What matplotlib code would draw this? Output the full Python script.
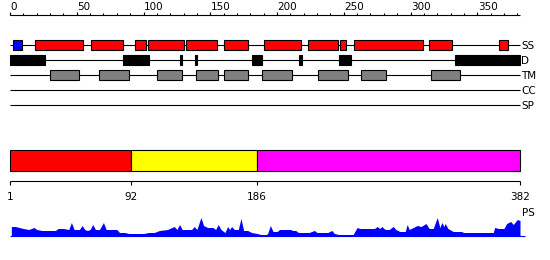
import matplotlib
matplotlib.use("Agg")
import matplotlib.pyplot as plt
import numpy as np

# --- Data ------------------------------------------------------------------

SEQ_LEN = 382

# secondary structure (residue start, end)
ss_helix = [(19, 55), (61, 85), (94, 102), (103, 130), (132, 155), (160, 178),
            (190, 218), (223, 246), (247, 252), (258, 309), (314, 331), (366, 373)]
ss_strand = [(2, 9)]

# disorder
disorder = [(0, 26), (85, 104), (127, 129), (138.5, 140), (181, 189),
            (216.5, 218.5), (246.5, 255.5), (333, 382)]

# transmembrane
transmem = [(30, 52), (67, 89), (110, 129), (139, 156), (160, 178),
            (189, 211), (231, 253), (263, 282), (315, 337)]

track_names = ["SS", "D", "TM", "CC", "SP"]

# domains (first residue of each) + colours
domain_starts = [1, 92, 186]
domain_colors = ["#ff0000", "#ffff00", "#ff00ff"]

# profile (residue, height)
ps_pos = [1, 4, 7, 10, 14, 18, 20, 24, 30, 34, 36, 40, 44, 46, 48, 52, 54, 56,
          58, 60, 62, 64, 67, 70, 72, 76, 80, 82, 86, 89, 95, 100, 104, 108,
          112, 118, 123, 125, 127, 129, 134, 136, 138, 140, 143, 145, 148, 152,
          154, 156, 158, 161, 163, 164.5, 166, 168, 171, 173, 175, 178, 181,
          185, 188, 192, 193, 195, 197, 200, 202, 206, 210, 212, 214, 216, 224,
          228, 230, 238, 241, 243, 246, 257, 260, 262, 266, 270, 273, 275, 277,
          278.5, 281, 284, 287, 289, 292, 296, 297.5, 299, 302, 305, 308,
          311.5, 314, 317, 320, 321, 322, 323.5, 325, 326, 328, 332, 338, 340,
          362, 363, 366, 370, 372, 375, 377, 380, 382]
ps_val = [9, 9, 8, 7, 6, 8, 6, 5, 5, 5, 7, 7, 6, 13, 6, 6, 10, 6,
          5, 6, 11, 6, 6, 13, 6, 6, 6, 3, 3, 2, 2, 2, 3, 3,
          5, 6, 9, 6, 11, 6, 6, 6, 9, 6, 18, 10, 8, 8,
          6, 11, 6, 3, 9, 6, 9, 6, 6, 17, 5, 5, 3,
          2, 1, 1, 2, 10, 4, 4, 6, 6, 6, 5, 5, 3, 3,
          5, 3, 3, 5, 2, 1, 1, 8, 7, 7, 7, 7, 9, 7,
          9, 6, 6, 9, 6, 4, 4, 11, 6, 8, 10, 9,
          12, 7, 7, 18, 13, 8, 13, 9, 12, 7, 4, 4, 3,
          3, 8, 7, 7, 12, 14, 11, 16, 15]

# --- Layout (pixel rows, axes y is inverted) -------------------------------

PX = SEQ_LEN / 510.0          # residues per pixel
RULER_Y = 15
TRACK_Y = [45, 60, 75, 90, 105]
BOX_H = 10
DOM_Y0, DOM_Y1 = 150, 170.5
AXIS_Y = 181
PS_BASE = 235.5

FS = 7.5
LW = 0.8

# --- Plot ------------------------------------------------------------------

fig = plt.figure(figsize=(5.5, 2.6), dpi=100)
ax = fig.add_axes([0, 0, 1, 1])
ax.set_xlim(-10 * PX, 540 * PX)
ax.set_ylim(260, 0)
ax.axis("off")

# top ruler
ax.hlines(RULER_Y, 0, SEQ_LEN, color="black", lw=LW)
minor = np.arange(0, SEQ_LEN, 10)
ax.vlines(minor, RULER_Y - 2, RULER_Y, color="black", lw=LW)
major = np.arange(0, SEQ_LEN, 50)
ax.vlines(major, RULER_Y - 3.5, RULER_Y, color="black", lw=LW)
for m in major:
    ax.text(m + 0.3, 10, str(m), ha="left", va="baseline", fontsize=FS)

# tracks
for name, y in zip(track_names, TRACK_Y):
    ax.hlines(y, 0, SEQ_LEN, color="black", lw=LW, zorder=1)
    ax.text(SEQ_LEN + 0.8, y + 3.8, name, ha="left", va="baseline", fontsize=FS)


def draw_boxes(items, y, color):
    starts = np.array([a for a, b in items], dtype=float)
    ends = np.array([b for a, b in items], dtype=float)
    ax.barh(y, ends - starts, left=starts, height=BOX_H, color=color,
            edgecolor="black", linewidth=LW, zorder=2)


draw_boxes(ss_helix, TRACK_Y[0], "#ff0000")
draw_boxes(ss_strand, TRACK_Y[0], "#0000ff")
draw_boxes(disorder, TRACK_Y[1], "black")
draw_boxes(transmem, TRACK_Y[2], "#808080")

# domain bar
bounds = [s - 1 for s in domain_starts] + [SEQ_LEN]
for i, col in enumerate(domain_colors):
    ax.barh((DOM_Y0 + DOM_Y1) / 2, bounds[i + 1] - bounds[i], left=bounds[i],
            height=DOM_Y1 - DOM_Y0, color=col, edgecolor="black",
            linewidth=LW, zorder=2)

# domain axis
ax.hlines(AXIS_Y, 0, SEQ_LEN, color="black", lw=LW)
ax.vlines(bounds, AXIS_Y, AXIS_Y + 4, color="black", lw=LW)
labels = domain_starts + [SEQ_LEN]
for b, lab in zip(bounds, labels):
    ax.text(b, 200, str(lab), ha="center", va="baseline", fontsize=FS)

# profile
pos = np.array(ps_pos, dtype=float)
val = np.array(ps_val, dtype=float)
ax.fill_between(pos, PS_BASE, PS_BASE - val, color="#0000ff", lw=0)
ax.hlines(PS_BASE, 0, SEQ_LEN + 4, color="#0000ff", lw=LW)
ax.text(SEQ_LEN + 1.2, 216.5, "PS", ha="left", va="baseline", fontsize=FS)

fig.savefig("out.png", dpi=100)
